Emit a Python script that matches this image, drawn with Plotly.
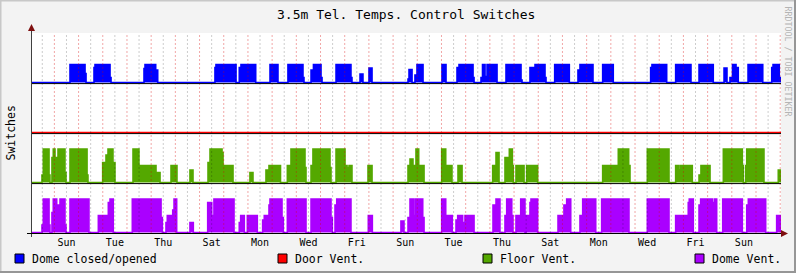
import plotly.graph_objects as go
import pandas as pd

# ---------------- data ----------------
T0 = pd.Timestamp("2011-01-01 00:48")   # start of the 31-day window
SPAN_HOURS = 744

# step series: (hours since start, value as fraction of one band)
dome_closed_opened = [
    (0, 0), (38.7, 0.36), (53.6, 0.18), (54.6, 0),
    (62.5, 0.3), (63.5, 0.36), (78.4, 0.1), (79.4, 0),
    (112.1, 0.28), (113.1, 0.36), (123.7, 0.25), (125.7, 0),
    (182.5, 0.3), (183.5, 0.36), (203.4, 0),
    (206.6, 0.3), (208.3, 0.36), (222.9, 0),
    (237.1, 0.36), (245.0, 0),
    (254.9, 0.36), (269.8, 0.1), (270.8, 0),
    (277.8, 0.25), (280.2, 0.36), (287.7, 0.1), (288.7, 0),
    (302.6, 0.36), (317.4, 0.1), (318.4, 0),
    (326.4, 0.17), (329.3, 0),
    (335.3, 0.29), (338.3, 0),
    (374.0, 0.07), (375.0, 0.26), (378.0, 0),
    (380.9, 0.15), (382.9, 0.36), (388.9, 0),
    (407.7, 0.36), (411.7, 0),
    (422.6, 0.3), (424.6, 0.36), (438.5, 0.1), (439.5, 0),
    (446.4, 0.1), (447.9, 0.36), (450.4, 0.12), (452.4, 0.36), (456.3, 0.28), (457.3, 0.36), (462.3, 0),
    (471.2, 0.36), (486.1, 0.05), (487.1, 0),
    (495.0, 0.3), (500.0, 0.36), (509.9, 0.1), (510.9, 0),
    (519.5, 0.36), (534.0, 0),
    (542.6, 0.25), (544.6, 0.36), (557.5, 0),
    (567.1, 0.36), (577.6, 0),
    (614.7, 0.3), (616.0, 0.36), (630.6, 0),
    (639.5, 0.36), (654.7, 0),
    (662.7, 0.36), (676.8, 0),
    (687.5, 0.29), (690.4, 0),
    (693.4, 0.1), (695.9, 0.36), (699.4, 0.3), (701.6, 0),
    (711.3, 0.36), (725.9, 0),
    (734.8, 0.3), (736.1, 0.36), (742.3, 0.1), (744, 0.1),
]

door_vent = [(0, 0), (744, 0)]

floor_vent = [
    (0, 0), (10.9, 0.15), (12.2, 0.67), (17.9, 0.15), (18.8, 0),
    (20.8, 0.5), (22.1, 0.67), (23.8, 0.5), (26.8, 0.67), (33.7, 0.2), (34.7, 0),
    (38.7, 0.67), (55.6, 0.15), (56.5, 0),
    (71.1, 0.4), (74.4, 0.55), (76.4, 0.67), (81.3, 0.4), (83.3, 0),
    (101.2, 0.67), (107.1, 0.34), (124.0, 0.2), (128.0, 0),
    (138.9, 0.34), (144.8, 0),
    (157.7, 0.25), (160.7, 0),
    (175.6, 0.4), (177.6, 0.67), (189.5, 0.6), (190.5, 0.34), (200.4, 0),
    (217.2, 0.2), (220.2, 0),
    (233.1, 0.25), (236.1, 0.34), (247.5, 0),
    (254.3, 0.34), (257.9, 0.67), (271.8, 0.3), (272.8, 0),
    (277.8, 0.34), (279.7, 0.67), (296.6, 0.3), (297.6, 0),
    (302.6, 0.67), (311.5, 0.34), (313.5, 0.3), (315.5, 0.34), (318.4, 0),
    (334.3, 0.34), (338.3, 0),
    (374.0, 0.34), (376.0, 0.47), (378.9, 0.34), (380.9, 0.15), (381.9, 0.67), (384.6, 0.34), (389.9, 0),
    (407.4, 0.67), (411.4, 0.34), (413.0, 0.15), (414.0, 0.34), (417.6, 0),
    (423.6, 0.34), (427.6, 0),
    (458.0, 0.34), (461.3, 0.6), (464.3, 0),
    (470.2, 0.5), (474.5, 0.67), (477.5, 0.34), (478.4, 0),
    (481.1, 0.34), (489.1, 0),
    (491.7, 0.34), (502.6, 0),
    (567.1, 0.34), (582.6, 0.67), (592.9, 0.34), (594.2, 0),
    (611.4, 0.67), (632.9, 0),
    (639.5, 0.34), (642.1, 0.25), (643.8, 0.34), (656.0, 0),
    (662.7, 0.15), (664.6, 0.34), (668.6, 0.15), (669.6, 0.34), (673.6, 0),
    (686.8, 0.67), (705.6, 0.34), (706.6, 0),
    (709.0, 0.34), (710.0, 0.67), (727.1, 0),
    (741.3, 0.25), (744, 0.25),
]

dome_vent = [
    (0, 0), (10.9, 0.15), (12.2, 0.67), (17.9, 0.15), (18.8, 0),
    (20.8, 0.4), (22.1, 0.67), (25.5, 0.45), (26.8, 0.55), (28.8, 0.67), (33.7, 0.15), (34.7, 0),
    (38.7, 0.67), (57.5, 0),
    (66.8, 0.34), (76.7, 0.6), (78.4, 0.67), (81.6, 0),
    (100.5, 0.67), (129.0, 0.3), (130.3, 0),
    (133.9, 0.2), (135.2, 0.34), (140.6, 0.45), (141.9, 0.67), (144.5, 0),
    (157.7, 0.2), (161.0, 0),
    (175.3, 0.6), (179.3, 0.34), (181.5, 0.67), (201.4, 0),
    (206.6, 0.2), (208.0, 0.34), (211.6, 0),
    (214.6, 0.34), (224.5, 0),
    (229.8, 0.25), (231.4, 0.34), (236.1, 0.55), (237.1, 0.67), (249.0, 0.3), (250.3, 0),
    (254.3, 0.67), (272.8, 0),
    (277.8, 0.67), (297.6, 0.3), (298.9, 0),
    (301.6, 0.55), (303.3, 0.67), (317.4, 0),
    (334.6, 0.34), (338.6, 0),
    (367.0, 0.23), (370.0, 0),
    (374.0, 0.3), (376.0, 0.67), (379.2, 0.34), (380.9, 0.67), (388.6, 0.3), (389.9, 0),
    (407.4, 0.67), (411.4, 0.34), (413.4, 0.3), (414.4, 0.34), (417.9, 0),
    (421.6, 0.25), (423.3, 0.34), (428.2, 0.2), (430.5, 0.34), (439.5, 0),
    (458.3, 0.55), (461.3, 0.67), (465.2, 0),
    (470.2, 0.34), (471.9, 0.67), (476.9, 0.34), (478.1, 0),
    (481.1, 0.34), (485.8, 0.67), (490.0, 0),
    (491.0, 0.34), (495.0, 0.6), (496.0, 0.67), (502.6, 0),
    (522.8, 0.34), (527.1, 0.2), (528.7, 0.55), (531.4, 0.67), (535.4, 0),
    (544.6, 0.34), (547.3, 0.67), (560.2, 0),
    (566.1, 0.67), (593.2, 0),
    (611.4, 0.67), (632.9, 0),
    (639.5, 0.34), (652.0, 0.6), (653.0, 0.67), (657.0, 0),
    (662.7, 0.55), (664.3, 0.67), (676.2, 0.6), (678.2, 0.67), (680.2, 0),
    (686.2, 0.67), (705.6, 0),
    (710.0, 0.55), (711.6, 0.67), (728.8, 0),
    (739.7, 0.34), (744, 0.34),
]

series_names = ["Dome closed/opened", "Door Vent.", "Floor Vent.", "Dome Vent."]
series_data = [dome_closed_opened, door_vent, floor_vent, dome_vent]
series_offsets = [3, 2, 1, 0]
series_colors = ["#0000FF", "#FF0000", "#54A800", "#AA00FF"]

title_text = "3.5m Tel. Temps. Control Switches"
y_label = "Switches"
watermark = "RRDTOOL / TOBI OETIKER"

# ---------------- layout helpers ----------------
W, H = 796, 273
PL, PT, PW, PH = 31, 33, 750, 200
FONT = "DejaVu Sans Mono"


def px_x(x):
    return (x - PL) / PW


def px_y(y):
    return (PT + PH - y) / PH


t_end = T0 + pd.Timedelta(hours=SPAN_HOURS)

fig = go.Figure()
for name, data, off, col in zip(series_names, series_data, series_offsets, series_colors):
    xs = [T0 + pd.Timedelta(hours=t) for t, _ in data]
    ys = [off + 0.01 + v for _, v in data]
    fig.add_trace(go.Scatter(x=[T0, t_end], y=[off + 0.01, off + 0.01], mode="lines",
                             line=dict(width=0, color=col), showlegend=False, hoverinfo="skip"))
    fig.add_trace(go.Scatter(x=xs, y=ys, mode="lines", line=dict(shape="hv", width=1.6, color=col),
                             fill="tonexty", fillcolor=col, showlegend=False, name=name))

shapes = []
# grid lines (12-hourly, major at midnight) drawn above the data like rrdtool
for t in pd.date_range(start=T0.ceil("12h"), end=t_end, freq="12h"):
    major = t.hour == 0
    shapes.append(dict(type="line", xref="x", yref="paper", x0=t, x1=t, y0=0, y1=1,
                       line=dict(color="rgba(215,0,0,0.35)" if major else "rgba(0,0,0,0.2)",
                                 width=1, dash="2px,2px"),
                       layer="above"))
# black rules under each band
for off in series_offsets[:-1]:
    shapes.append(dict(type="line", xref="paper", yref="y", x0=0, x1=1, y0=off - 0.012, y1=off - 0.012,
                       line=dict(color="#000000", width=1), layer="above"))
# axes
AX = "#404040"
ARW = "#7F1010"
shapes.append(dict(type="line", xref="paper", yref="paper", x0=px_x(31.5), x1=px_x(31.5),
                   y0=px_y(237), y1=px_y(29), line=dict(color=AX, width=1), layer="above"))
shapes.append(dict(type="line", xref="paper", yref="paper", x0=px_x(27), x1=px_x(783),
                   y0=px_y(233.5), y1=px_y(233.5), line=dict(color="#000000", width=1), layer="above"))
shapes.append(dict(type="path", xref="paper", yref="paper",
                   path=f"M {px_x(28)} {px_y(31)} L {px_x(35)} {px_y(31)} L {px_x(31.5)} {px_y(24)} Z",
                   fillcolor=ARW, line=dict(width=0), layer="above"))
shapes.append(dict(type="path", xref="paper", yref="paper",
                   path=f"M {px_x(781)} {px_y(230)} L {px_x(781)} {px_y(237)} L {px_x(788)} {px_y(233.5)} Z",
                   fillcolor=ARW, line=dict(width=0), layer="above"))
# outer frame
shapes.append(dict(type="line", xref="paper", yref="paper", x0=px_x(0.5), x1=px_x(0.5), y0=px_y(0), y1=px_y(273),
                   line=dict(color="#C8C8C8", width=2)))
shapes.append(dict(type="line", xref="paper", yref="paper", x0=px_x(0), x1=px_x(796), y0=px_y(0.5), y1=px_y(0.5),
                   line=dict(color="#C8C8C8", width=2)))
shapes.append(dict(type="line", xref="paper", yref="paper", x0=px_x(795), x1=px_x(795), y0=px_y(0), y1=px_y(273),
                   line=dict(color="#969696", width=2)))
shapes.append(dict(type="line", xref="paper", yref="paper", x0=px_x(0), x1=px_x(796), y0=px_y(272), y1=px_y(272),
                   line=dict(color="#969696", width=2)))

annotations = [
    dict(text=title_text, x=px_x(406), y=px_y(14), xref="paper", yref="paper", showarrow=False,
         xanchor="center", yanchor="middle", font=dict(family=FONT, size=13, color="#000000")),
    dict(text=y_label, x=px_x(10.5), y=px_y(133), xref="paper", yref="paper", showarrow=False,
         textangle=-90, xanchor="center", yanchor="middle", font=dict(family=FONT, size=11.5, color="#000000")),
    dict(text=watermark, x=px_x(787.5), y=px_y(61), xref="paper", yref="paper", showarrow=False,
         textangle=90, xanchor="center", yanchor="middle", font=dict(family=FONT, size=8.3, color="#B4B4B4")),
]

# legend (rrdtool style)
legend_box_left = [15, 278, 483, 695]
for name, col, lx in zip(series_names, series_colors, legend_box_left):
    shapes.append(dict(type="rect", xref="paper", yref="paper", x0=px_x(lx), x1=px_x(lx + 9),
                       y0=px_y(254), y1=px_y(263), fillcolor=col, line=dict(color="#000000", width=1)))
    annotations.append(dict(text=name, x=px_x(lx + 15), y=px_y(258.5), xref="paper", yref="paper",
                            showarrow=False, xanchor="left", yanchor="middle",
                            font=dict(family=FONT, size=11.5, color="#000000")))

fig.update_layout(
    width=W, height=H,
    margin=dict(l=PL, r=W - PL - PW, t=PT, b=H - PT - PH, pad=0),
    paper_bgcolor="#F3F3F3", plot_bgcolor="#FFFFFF",
    showlegend=False,
    shapes=shapes, annotations=annotations,
    xaxis=dict(type="date", range=[T0, t_end], showgrid=False, zeroline=False, showline=False,
               ticks="", tickformat="%a", dtick=2 * 86400000, tick0="2011-01-02 12:00:00",
               ticklabelstandoff=2,
               tickfont=dict(family=FONT, size=10, color="#000000"), fixedrange=True),
    yaxis=dict(range=[0, 4], showgrid=False, zeroline=False, showline=False, showticklabels=False,
               ticks="", fixedrange=True),
)

fig.write_html("out.html")
